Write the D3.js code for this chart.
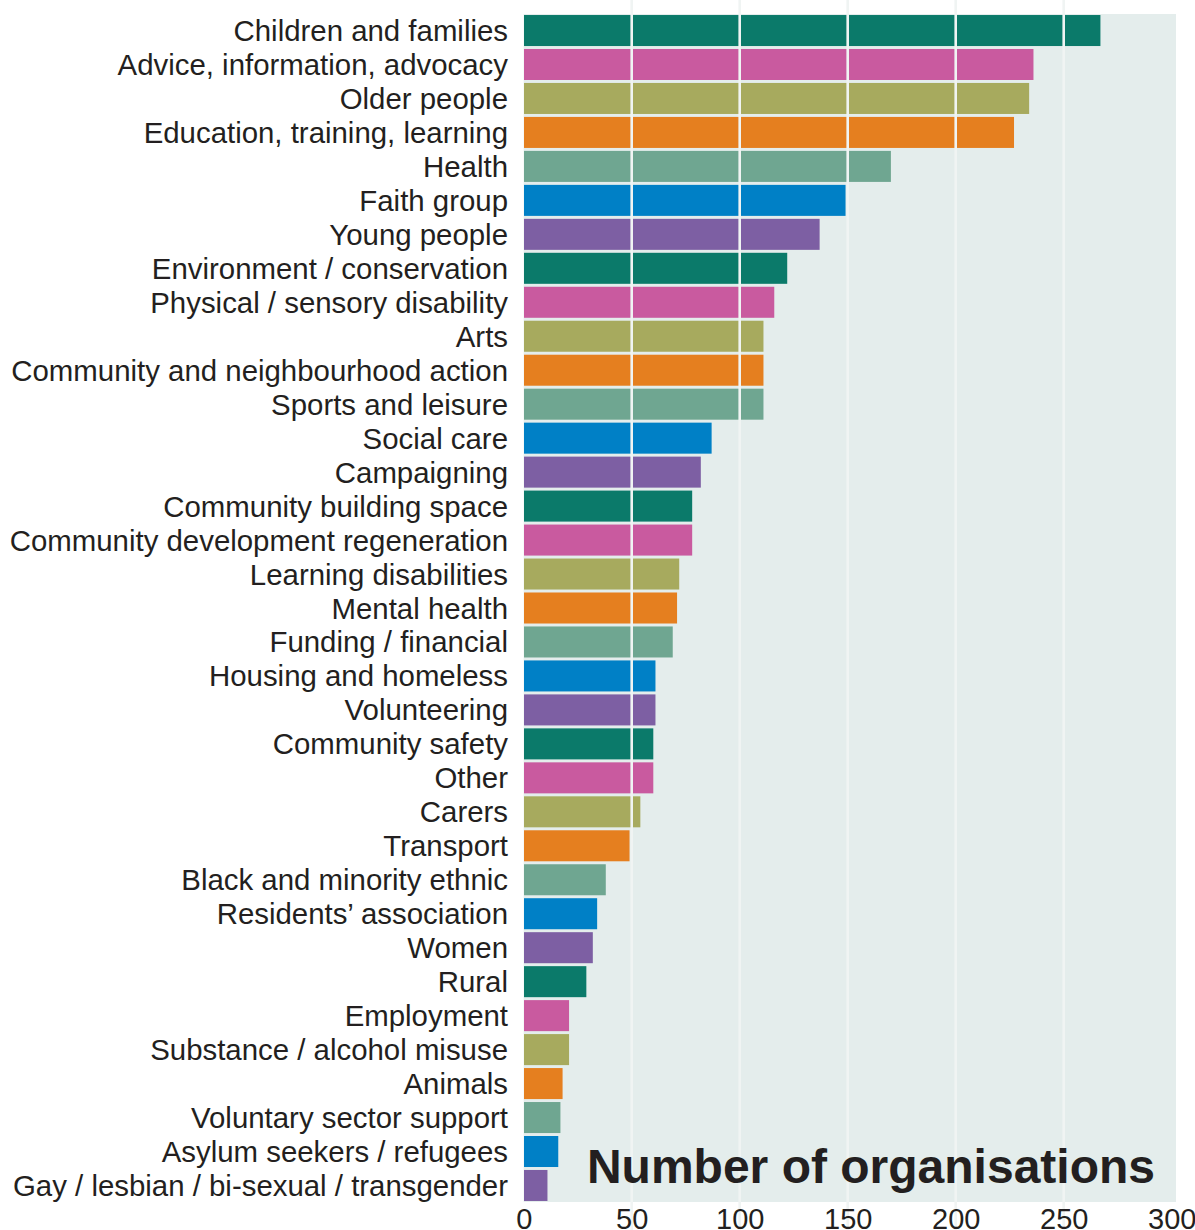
<!DOCTYPE html>
<html>
<head>
<meta charset="utf-8">
<script src="https://cdn.jsdelivr.net/npm/d3@7"></script>
<style>
  html, body { margin: 0; padding: 0; background: #ffffff; }
  svg { display: block; }
</style>
</head>
<body>
<svg id="chart" width="1195" height="1230"></svg>
<script>
const categories = [
  "Children and families",
  "Advice, information, advocacy",
  "Older people",
  "Education, training, learning",
  "Health",
  "Faith group",
  "Young people",
  "Environment / conservation",
  "Physical / sensory disability",
  "Arts",
  "Community and neighbourhood action",
  "Sports and leisure",
  "Social care",
  "Campaigning",
  "Community building space",
  "Community development regeneration",
  "Learning disabilities",
  "Mental health",
  "Funding / financial",
  "Housing and homeless",
  "Volunteering",
  "Community safety",
  "Other",
  "Carers",
  "Transport",
  "Black and minority ethnic",
  "Residents\u2019 association",
  "Women",
  "Rural",
  "Employment",
  "Substance / alcohol misuse",
  "Animals",
  "Voluntary sector support",
  "Asylum seekers / refugees",
  "Gay / lesbian / bi-sexual / transgender"
];
const counts = [267, 236, 234, 227, 170, 149, 137, 122, 116, 111, 111, 111, 87, 82, 78, 78, 72, 71, 69, 61, 61, 60, 60, 54, 49, 38, 34, 32, 29, 21, 21, 18, 17, 16, 11];
const palette = ["#0b7a6a", "#c95a9f", "#a7aa5e", "#e57f1f", "#6fa691", "#0080c6", "#7d5fa3"];
const xTicks = [0, 50, 100, 150, 200, 250, 300];
const gridValues = [50, 100, 150, 200, 250];
const axisTitle = "Number of organisations";

(function () {
  const data = categories.map((c, i) => ({ cat: c, value: counts[i], color: palette[i % palette.length] }));

  const svg = d3.select("#chart");
  const W = 1195, H = 1230;
  const pLeft = 523.7, pTop = 14, pBottom = 1202;

  const x = d3.scaleLinear().domain([0, 302]).range([pLeft, pLeft + 302 * 2.16]);
  const y = d3.scaleBand().domain(categories).range([pTop, pBottom]).paddingInner(0.087).paddingOuter(0.03);

  // panel background
  svg.append("rect")
    .attr("x", x(0)).attr("y", pTop)
    .attr("width", x(302) - x(0)).attr("height", pBottom - pTop)
    .attr("fill", "#e4edec");

  // bars
  svg.append("g").selectAll("rect").data(data).join("rect")
    .attr("x", x(0) + 0.3)
    .attr("y", d => y(d.cat))
    .attr("width", d => x(d.value) - x(0) - 0.3)
    .attr("height", y.bandwidth())
    .attr("fill", d => d.color);

  // gridlines (drawn over bars, full height)
  svg.append("g").selectAll("line").data(gridValues).join("line")
    .attr("x1", d => x(d)).attr("x2", d => x(d))
    .attr("y1", 0).attr("y2", H)
    .attr("stroke", "#f0f4f3")
    .attr("stroke-width", 2.6);

  // category labels
  svg.append("g").selectAll("text").data(data).join("text")
    .attr("x", 508)
    .attr("y", d => y(d.cat) + y.bandwidth() / 2 + 10.5)
    .attr("text-anchor", "end")
    .attr("font-family", "'Liberation Sans', Arial, Helvetica, sans-serif")
    .attr("font-size", 29.4)
    .attr("fill", "#231f20")
    .text(d => d.cat);

  // x axis tick labels
  const xAxis = d3.axisBottom(x).tickValues(xTicks).tickSize(0).tickPadding(0).tickFormat(d3.format("d"));
  const axG = svg.append("g").attr("transform", `translate(0, ${pBottom})`).call(xAxis);
  axG.select(".domain").remove();
  axG.selectAll("text")
    .attr("y", 0)
    .attr("dy", 27)
    .attr("font-family", "'Liberation Sans Narrow', 'Arial Narrow', 'Liberation Sans', sans-serif")
    .attr("font-size", 29)
    .attr("fill", "#231f20");

  // axis title inside panel
  svg.append("text")
    .attr("x", 1155)
    .attr("y", 1183)
    .attr("text-anchor", "end")
    .attr("font-family", "'Liberation Sans', Arial, Helvetica, sans-serif")
    .attr("font-weight", "bold")
    .attr("font-size", 48)
    .attr("fill", "#231f20")
    .text(axisTitle);
})();
</script>
</body>
</html>
